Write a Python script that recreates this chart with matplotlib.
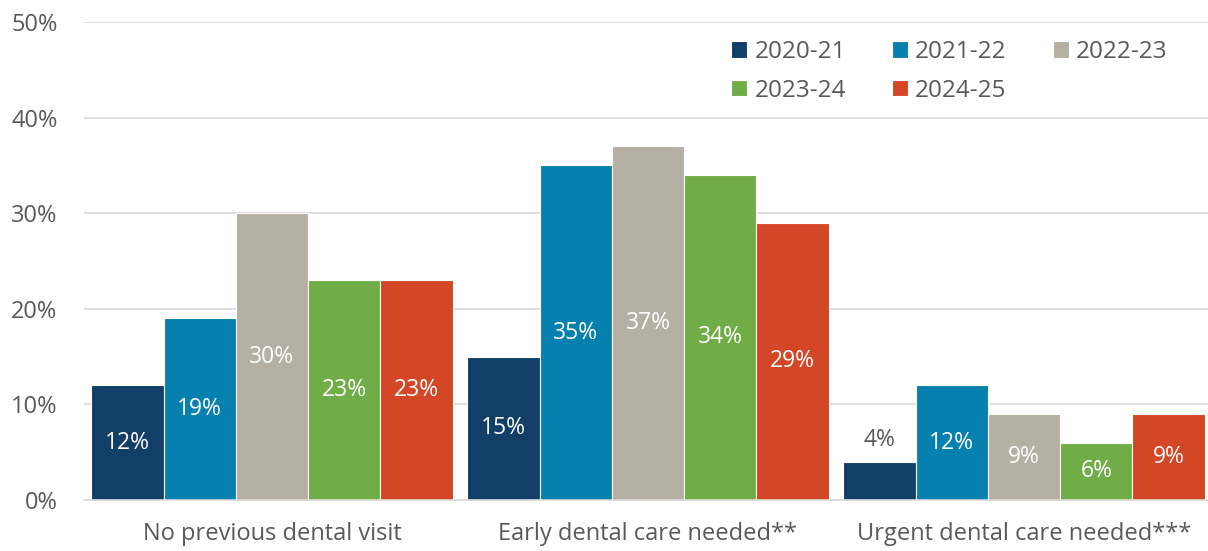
import matplotlib

matplotlib.use("Agg")

import matplotlib.pyplot as plt
import numpy as np

CATEGORIES = ["No previous dental visit", "Early dental care needed**", "Urgent dental care needed***"]
YEARS = ["2020-21", "2021-22", "2022-23", "2023-24", "2024-25"]
VALUES = [
    [12, 15, 4],
    [19, 35, 12],
    [30, 37, 9],
    [23, 34, 6],
    [23, 29, 9],
]
COLORS = ["#113F67", "#0680AE", "#B5B0A3", "#70AD47", "#D34726"]
TEXT_GREY = "#595959"

plt.rcParams["font.family"] = ["Open Sans", "DejaVu Sans"]

fig = plt.figure(figsize=(12.08, 5.51), dpi=100)
ax = fig.add_axes([84 / 1208, 51 / 551, 1128 / 1208, 478 / 551])

x = np.arange(len(CATEGORIES))
group_w = 0.961
bar_w = group_w / len(YEARS)

handles = []
for i, (year, vals, color) in enumerate(zip(YEARS, VALUES, COLORS)):
    pos = x - group_w / 2 + bar_w * (i + 0.5)
    bars = ax.bar(pos, vals, width=bar_w, color=color, edgecolor="white", linewidth=0.8, label=year)
    handles.append(bars)
    for px, v in zip(pos, vals):
        if v < 5:
            ax.text(px, v + 1.0, f"{v}%", ha="center", va="bottom", color=TEXT_GREY, fontsize=16.5)
        else:
            ax.text(px, v / 2, f"{v}%", ha="center", va="center", color="white", fontsize=16.5)

ax.set_xlim(-0.5, 2.5)
ax.set_ylim(0, 50)
ax.set_yticks(range(0, 51, 10))
ax.set_yticklabels([f"{t}%" for t in range(0, 51, 10)])
ax.set_xticks(x)
ax.set_xticklabels(CATEGORIES)
ax.yaxis.grid(True, color="#D9D9D9", linewidth=1.2)
ax.set_axisbelow(True)
for side in ["top", "right", "left"]:
    ax.spines[side].set_visible(False)
ax.spines["bottom"].set_color("#D9D9D9")
ax.spines["bottom"].set_linewidth(1.2)
ax.tick_params(axis="both", length=0, colors=TEXT_GREY, labelsize=17)
ax.tick_params(axis="y", pad=19)
ax.tick_params(axis="x", pad=16)

order = [0, 3, 1, 4, 2]
leg = ax.legend(
    [handles[k] for k in order],
    [YEARS[k] for k in order],
    ncol=3,
    loc="upper right",
    bbox_to_anchor=(0.98, 1.008),
    frameon=False,
    fontsize=17.5,
    handlelength=0.65,
    handleheight=0.65,
    handletextpad=0.3,
    columnspacing=1.9,
    labelspacing=0.6,
)
for t in leg.get_texts():
    t.set_color(TEXT_GREY)

fig.savefig("out.png", dpi=100)
